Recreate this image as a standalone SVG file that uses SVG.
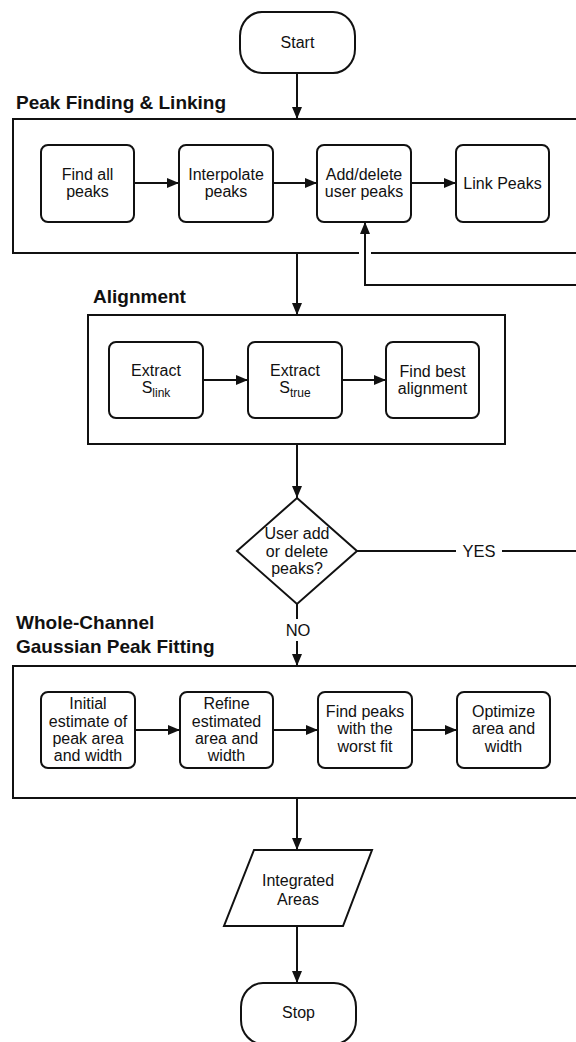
<svg xmlns="http://www.w3.org/2000/svg" width="576" height="1042" viewBox="0 0 576 1042">
<defs>
<style>
.box{fill:#fff;stroke:#111;stroke-width:2}
.cont{fill:none;stroke:#111;stroke-width:2}
.ln{fill:none;stroke:#111;stroke-width:2}
.t{font-family:"Liberation Sans",Arial,sans-serif;font-size:16px;fill:#111;text-anchor:middle}
.h{font-family:"Liberation Sans",Arial,sans-serif;font-size:19px;font-weight:bold;fill:#111}
.sub{font-size:12px}
</style>
<marker id="ah" markerUnits="userSpaceOnUse" markerWidth="12" markerHeight="10" refX="12" refY="5" orient="auto">
<path d="M0,0 L12,5 L0,10 z" fill="#111"/>
</marker>
</defs>
<rect width="576" height="1042" fill="#fff"/>

<g id="labels">
<text class="h" x="16" y="109">Peak Finding &amp; Linking</text>
<text class="h" x="93" y="303">Alignment</text>
<text class="h" x="16" y="629">Whole-Channel</text>
<text class="h" x="16" y="653">Gaussian Peak Fitting</text>
</g>

<g id="group-peak-finding">
<path class="cont" d="M580,119 H13 V253 H359 M371,253 H580"/>
</g>
<g id="group-alignment">
<rect class="cont" x="88" y="315" width="417" height="129"/>
</g>
<g id="group-gaussian">
<path class="cont" d="M580,666 H13 V798 H580"/>
</g>

<g id="connectors">
<path class="ln" d="M297,73 V119" marker-end="url(#ah)"/>
<path class="ln" d="M134,183 H179" marker-end="url(#ah)"/>
<path class="ln" d="M273,183 H317" marker-end="url(#ah)"/>
<path class="ln" d="M411,183 H456" marker-end="url(#ah)"/>
<path class="ln" d="M297,253 V315" marker-end="url(#ah)"/>
<path class="ln" d="M203,380 H248" marker-end="url(#ah)"/>
<path class="ln" d="M342,380 H386" marker-end="url(#ah)"/>
<path class="ln" d="M297,444 V498" marker-end="url(#ah)"/>
<path class="ln" d="M357,551 H590 V285 H365 V222" marker-end="url(#ah)"/>
<path class="ln" d="M297,604 V666" marker-end="url(#ah)"/>
<path class="ln" d="M135,730 H180" marker-end="url(#ah)"/>
<path class="ln" d="M273,730 H318" marker-end="url(#ah)"/>
<path class="ln" d="M412,730 H457" marker-end="url(#ah)"/>
<path class="ln" d="M297,798 V850" marker-end="url(#ah)"/>
<path class="ln" d="M297,926 V983" marker-end="url(#ah)"/>
<rect x="456" y="540" width="46" height="22" fill="#fff"/>
<text class="t" x="479" y="557" style="font-size:16.5px">YES</text>
<rect x="284" y="619" width="26" height="22" fill="#fff"/>
<text class="t" x="298" y="636" style="font-size:16.5px">NO</text>
</g>

<g id="start">
<rect class="box" x="240" y="12" width="115" height="61" rx="22" ry="24"/>
<text class="t" x="297.5" y="48">Start</text>
</g>

<g id="find-all-peaks">
<rect class="box" x="41" y="145" width="93" height="77" rx="7"/>
<text class="t" x="87.5" y="180">Find all</text>
<text class="t" x="87.5" y="197">peaks</text>
</g>
<g id="interpolate-peaks">
<rect class="box" x="179" y="145" width="94" height="77" rx="7"/>
<text class="t" x="226" y="180">Interpolate</text>
<text class="t" x="226" y="197">peaks</text>
</g>
<g id="add-delete-user-peaks">
<rect class="box" x="317" y="145" width="94" height="77" rx="7"/>
<text class="t" x="364" y="180">Add/delete</text>
<text class="t" x="364" y="197">user peaks</text>
</g>
<g id="link-peaks">
<rect class="box" x="456" y="145" width="93" height="77" rx="7"/>
<text class="t" x="502.5" y="189">Link Peaks</text>
</g>

<g id="extract-slink">
<rect class="box" x="109" y="342" width="94" height="76" rx="7"/>
<text class="t" x="156" y="376">Extract</text>
<text class="t" x="156" y="393">S<tspan class="sub" dy="4">link</tspan></text>
</g>
<g id="extract-strue">
<rect class="box" x="248" y="342" width="94" height="76" rx="7"/>
<text class="t" x="295" y="376">Extract</text>
<text class="t" x="295" y="393">S<tspan class="sub" dy="4">true</tspan></text>
</g>
<g id="find-best-alignment">
<rect class="box" x="386" y="342" width="93" height="76" rx="7"/>
<text class="t" x="432.5" y="377">Find best</text>
<text class="t" x="432.5" y="394">alignment</text>
</g>

<g id="decision">
<polygon class="box" points="297,498 357,551 297,604 237,551"/>
<text class="t" x="297" y="539">User add</text>
<text class="t" x="297" y="557">or delete</text>
<text class="t" x="297" y="574">peaks?</text>
</g>

<g id="initial-estimate">
<rect class="box" x="41" y="692" width="94" height="76" rx="7"/>
<text class="t" x="88" y="709">Initial</text>
<text class="t" x="88" y="727">estimate of</text>
<text class="t" x="88" y="744">peak area</text>
<text class="t" x="88" y="761">and width</text>
</g>
<g id="refine-estimated">
<rect class="box" x="180" y="692" width="93" height="76" rx="7"/>
<text class="t" x="226.5" y="709">Refine</text>
<text class="t" x="226.5" y="727">estimated</text>
<text class="t" x="226.5" y="744">area and</text>
<text class="t" x="226.5" y="761">width</text>
</g>
<g id="find-peaks-worst-fit">
<rect class="box" x="318" y="692" width="94" height="76" rx="7"/>
<text class="t" x="365" y="717">Find peaks</text>
<text class="t" x="365" y="734">with the</text>
<text class="t" x="365" y="752">worst fit</text>
</g>
<g id="optimize">
<rect class="box" x="457" y="692" width="93" height="76" rx="7"/>
<text class="t" x="503.5" y="717">Optimize</text>
<text class="t" x="503.5" y="734">area and</text>
<text class="t" x="503.5" y="752">width</text>
</g>

<g id="integrated-areas">
<polygon class="box" points="254,850 372,850 343,926 224,926"/>
<text class="t" x="298" y="886">Integrated</text>
<text class="t" x="298" y="905">Areas</text>
</g>

<g id="stop">
<rect class="box" x="241" y="983" width="115" height="61" rx="22" ry="24"/>
<text class="t" x="298.5" y="1018">Stop</text>
</g>
</svg>
